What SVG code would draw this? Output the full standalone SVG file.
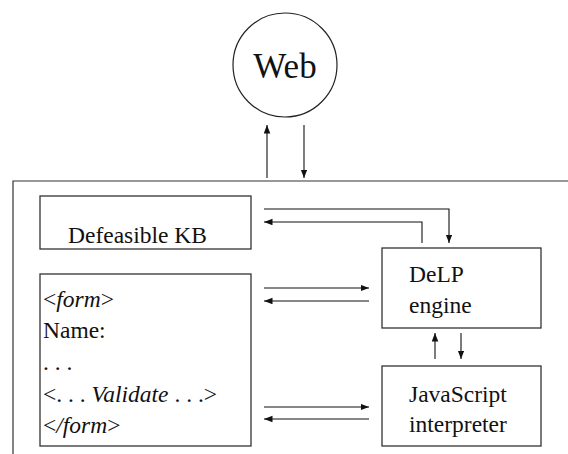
<svg xmlns="http://www.w3.org/2000/svg" width="568" height="454" viewBox="0 0 568 454">
<style>
.box{fill:#fff;stroke:#333;stroke-width:1.3}
.frame{fill:none;stroke:#333;stroke-width:1.2}
.c{fill:none;stroke:#111;stroke-width:1.1}
</style>
<defs>
<marker id="ah" markerWidth="9" markerHeight="7" refX="8.5" refY="3.25" orient="auto" markerUnits="userSpaceOnUse">
<path d="M0,0 L8.5,3.25 L0,6.5 z" fill="#111"/>
</marker>
</defs>
<g id="frame">
<path class="frame" d="M568,181 H13 V454"/>
</g>
<g id="web">
<circle cx="285" cy="65" r="52" fill="#fff" stroke="#222" stroke-width="1.2"/>
<text x="285" y="78" text-anchor="middle" font-family="Liberation Serif" font-size="35" fill="#111">Web</text>
</g>
<g id="kb" font-family="Liberation Serif" font-size="23.5" fill="#111">
<rect class="box" x="40" y="196" width="211" height="53"/>
<text x="68" y="243" font-family="Liberation Serif" font-size="23.5">Defeasible KB</text>
</g>
<g id="form" font-family="Liberation Serif" font-size="23.5" fill="#111">
<rect class="box" x="40" y="274" width="211" height="172"/>
<text x="43" y="307" font-family="Liberation Serif" font-size="23.5">&lt;<tspan font-style="italic">form</tspan>&gt;</text>
<text x="43" y="338" font-family="Liberation Serif" font-size="23.5">Name:</text>
<text x="43" y="370" font-family="Liberation Serif" font-size="23.5">. . .</text>
<text x="43" y="402" font-family="Liberation Serif" font-size="23.5">&lt;. . . <tspan font-style="italic">Validate</tspan> . . .&gt;</text>
<text x="43" y="433" font-family="Liberation Serif" font-size="23.5">&lt;<tspan font-style="italic">/form</tspan>&gt;</text>
</g>
<g id="delp" font-family="Liberation Serif" font-size="23.5" fill="#111">
<rect class="box" x="382" y="248" width="159" height="80"/>
<text x="409" y="282" font-family="Liberation Serif" font-size="23.5">DeLP</text>
<text x="409" y="313" font-family="Liberation Serif" font-size="23.5">engine</text>
</g>
<g id="js" font-family="Liberation Serif" font-size="23.5" fill="#111">
<rect class="box" x="382" y="366" width="159" height="80"/>
<text x="409" y="402" font-family="Liberation Serif" font-size="23.5">JavaScript</text>
<text x="409" y="432" font-family="Liberation Serif" font-size="23.5">interpreter</text>
</g>
<g id="connectors">
<path class="c" d="M267,178 V125" marker-end="url(#ah)"/>
<path class="c" d="M304,125 V178" marker-end="url(#ah)"/>
<path class="c" d="M264,209 H449 V243" marker-end="url(#ah)"/>
<path class="c" d="M422,243 V222 H264" marker-end="url(#ah)"/>
<path class="c" d="M264,288 H369" marker-end="url(#ah)"/>
<path class="c" d="M369,301 H264" marker-end="url(#ah)"/>
<path class="c" d="M435,359 V333" marker-end="url(#ah)"/>
<path class="c" d="M461,333 V359" marker-end="url(#ah)"/>
<path class="c" d="M264,407 H369" marker-end="url(#ah)"/>
<path class="c" d="M369,419 H264" marker-end="url(#ah)"/>
</g>
</svg>
